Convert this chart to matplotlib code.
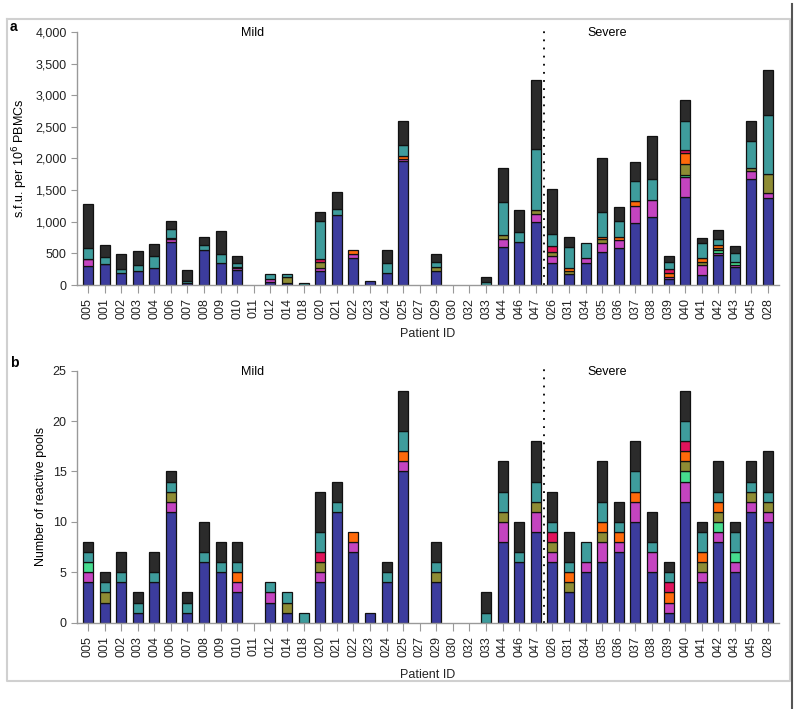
import numpy as np
import matplotlib.pyplot as plt
from matplotlib.lines import Line2D

plt.rcParams['font.family'] = ['Liberation Sans', 'DejaVu Sans']

patients = ['005', '001', '002', '003', '004', '006', '007', '008', '009', '010', '011', '012',
            '014', '018', '020', '021', '022', '023', '024', '025', '027', '029', '030', '032',
            '033', '044', '046', '047',
            '026', '031', '034', '035', '036', '037', '038', '039', '040', '041', '042', '043',
            '045', '028']

# panel a: s.f.u. per 10^6 PBMCs, one list per stacked segment (bottom -> top)
sfu_blue = [306, 327, 185, 227, 264, 686, 26, 554, 343, 237, 0, 50, 26, 0, 227, 1108, 422, 63,
            185, 1953, 0, 227, 0, 0, 0, 596, 675, 992,
            343, 169, 343, 528, 580, 976, 1071, 90, 1388, 158, 475, 280, 1673, 1372]
sfu_magenta = [100, 0, 0, 0, 0, 45, 0, 0, 0, 30, 0, 40, 0, 0, 47, 0, 69, 0, 0, 45, 0, 0, 0, 0,
               0, 127, 0, 132,
               116, 0, 79, 142, 132, 275, 275, 42, 316, 159, 37, 37, 121, 79]
sfu_mint = [11, 0, 0, 0, 0, 0, 0, 0, 0, 0, 0, 0, 0, 0, 0, 0, 0, 0, 0, 0, 0, 0, 0, 0, 0, 0, 0, 0,
            0, 0, 0, 0, 0, 0, 0, 0, 37, 0, 42, 52, 0, 0]
sfu_olive = [0, 10, 0, 0, 0, 8, 0, 0, 0, 0, 0, 0, 106, 0, 95, 0, 0, 0, 0, 0, 0, 63, 0, 0, 0, 69,
             0, 63,
             69, 58, 0, 53, 0, 0, 0, 0, 175, 52, 26, 0, 53, 306]
sfu_orange = [0, 0, 0, 0, 0, 0, 0, 0, 0, 25, 0, 0, 0, 0, 0, 0, 60, 0, 0, 34, 0, 0, 0, 0, 0, 0,
              0, 0,
              0, 37, 0, 42, 53, 79, 0, 63, 168, 64, 53, 0, 0, 0]
sfu_crimson = [0, 0, 0, 0, 0, 0, 0, 0, 0, 0, 0, 0, 0, 0, 37, 0, 0, 0, 0, 0, 0, 0, 0, 0, 0, 0, 0,
               0,
               95, 0, 0, 0, 0, 0, 0, 53, 53, 0, 0, 0, 0, 0]
sfu_teal = [174, 101, 63, 90, 200, 142, 37, 79, 148, 50, 0, 90, 42, 37, 607, 95, 0, 0, 158, 174,
            0, 79, 0, 0, 53, 527, 159, 961,
            179, 343, 238, 396, 248, 306, 332, 121, 449, 237, 90, 132, 433, 924]
sfu_black = [691, 190, 243, 227, 180, 137, 174, 132, 369, 122, 0, 0, 0, 0, 148, 264, 0, 0, 211,
             390, 0, 122, 0, 0, 79, 528, 353, 1097,
             718, 148, 0, 844, 217, 306, 670, 95, 332, 69, 148, 122, 306, 723]

# panel b: number of reactive pools
pools_blue = [4, 2, 4, 1, 4, 11, 1, 6, 5, 3, 0, 2, 1, 0, 4, 11, 7, 1, 4, 15, 0, 4, 0, 0, 0, 8, 6, 9,
              6, 3, 5, 6, 7, 10, 5, 1, 12, 4, 8, 5, 11, 10]
pools_magenta = [1, 0, 0, 0, 0, 1, 0, 0, 0, 1, 0, 1, 0, 0, 1, 0, 1, 0, 0, 1, 0, 0, 0, 0, 0, 2, 0, 2,
                 1, 0, 1, 2, 1, 2, 2, 1, 2, 1, 1, 1, 1, 1]
pools_mint = [1, 0, 0, 0, 0, 0, 0, 0, 0, 0, 0, 0, 0, 0, 0, 0, 0, 0, 0, 0, 0, 0, 0, 0, 0, 0, 0, 0,
              0, 0, 0, 0, 0, 0, 0, 0, 1, 0, 1, 1, 0, 0]
pools_olive = [0, 1, 0, 0, 0, 1, 0, 0, 0, 0, 0, 0, 1, 0, 1, 0, 0, 0, 0, 0, 0, 1, 0, 0, 0, 1, 0, 1,
               1, 1, 0, 1, 0, 0, 0, 0, 1, 1, 1, 0, 1, 1]
pools_orange = [0, 0, 0, 0, 0, 0, 0, 0, 0, 1, 0, 0, 0, 0, 0, 0, 1, 0, 0, 1, 0, 0, 0, 0, 0, 0, 0, 0,
                0, 1, 0, 1, 1, 1, 0, 1, 1, 1, 1, 0, 0, 0]
pools_crimson = [0, 0, 0, 0, 0, 0, 0, 0, 0, 0, 0, 0, 0, 0, 1, 0, 0, 0, 0, 0, 0, 0, 0, 0, 0, 0, 0, 0,
                 1, 0, 0, 0, 0, 0, 0, 1, 1, 0, 0, 0, 0, 0]
pools_teal = [1, 1, 1, 1, 1, 1, 1, 1, 1, 1, 0, 1, 1, 1, 2, 1, 0, 0, 1, 2, 0, 1, 0, 0, 1, 2, 1, 2,
              1, 1, 2, 2, 1, 2, 1, 1, 2, 2, 1, 2, 1, 1]
pools_black = [1, 1, 2, 1, 2, 1, 1, 3, 2, 2, 0, 0, 0, 0, 4, 2, 0, 0, 1, 4, 0, 2, 0, 0, 2, 3, 3, 4,
               3, 3, 0, 4, 2, 3, 3, 1, 3, 1, 3, 1, 2, 4]

n_mild = 28
colors = ['#3c3c9e', '#c444c0', '#46dc8e', '#8e8c34', '#ff6a0a', '#e0145c', '#3e9c9c', '#2b2b2b']

fig = plt.figure(figsize=(8, 7.09), dpi=100)

# figure frame
fig.add_artist(Line2D([7/800, 790/800, 790/800, 7/800, 7/800],
                      [1-19/709, 1-19/709, 1-681/709, 1-681/709, 1-19/709],
                      color='#d0d0d0', lw=1.5))
fig.add_artist(Line2D([792/800, 792/800], [0, 1-4/709], color='#555555', lw=1.5))

ax_a = fig.add_axes([0.09625, 0.598, 0.8775, 0.357])
ax_b = fig.add_axes([0.09625, 0.1217, 0.8775, 0.3555])

x = np.arange(len(patients))


def stacked(ax, layers):
    bottom = np.zeros(len(patients))
    for vals, c in zip(layers, colors):
        vals = np.array(vals, dtype=float)
        m = vals > 0
        ax.bar(x[m], vals[m], bottom=bottom[m], width=0.6, color=c,
               edgecolor='#111111', linewidth=0.9)
        bottom += vals


stacked(ax_a, [sfu_blue, sfu_magenta, sfu_mint, sfu_olive, sfu_orange, sfu_crimson, sfu_teal,
               sfu_black])
stacked(ax_b, [pools_blue, pools_magenta, pools_mint, pools_olive, pools_orange, pools_crimson,
               pools_teal, pools_black])

for ax, lp in ((ax_a, 6), (ax_b, 9)):
    ax.set_xlim(-0.66, len(patients) - 0.34)
    ax.set_xticks(x)
    ax.set_xticklabels(patients, rotation=90)
    for s in ('top', 'right'):
        ax.spines[s].set_visible(False)
    for s in ('left', 'bottom'):
        ax.spines[s].set_color('#999999')
        ax.spines[s].set_linewidth(1)
    ax.tick_params(colors='#999999', labelcolor='#222222', labelsize=9, length=4)
    ax.tick_params(axis='x', length=6, pad=3.5)
    ax.set_xlabel('Patient ID', fontsize=9, color='#222222', labelpad=lp)
    ax.axvline(n_mild - 0.5, ymin=0, ymax=1.02, color='black', ls=(0, (1, 3.5)), lw=1.3,
               clip_on=False)
    ax.text(0.25, 0.995, 'Mild', transform=ax.transAxes, ha='center', va='center', fontsize=9)
    ax.text(0.755, 0.995, 'Severe', transform=ax.transAxes, ha='center', va='center', fontsize=9)

ax_a.set_ylim(0, 4000)
ax_a.set_yticks(np.arange(0, 4001, 500))
ax_a.set_yticklabels([f'{v:,}' for v in range(0, 4001, 500)])
ax_a.set_ylabel('s.f.u. per 10$^6$ PBMCs', fontsize=9)

ax_b.set_ylim(0, 25)
ax_b.set_yticks(np.arange(0, 26, 5))
ax_b.set_ylabel('Number of reactive pools', fontsize=9)

fig.text(10/800, 1-27/709, 'a', fontsize=10, fontweight='bold', va='center')
fig.text(10/800, 1-363/709, 'b', fontsize=10, fontweight='bold', va='center')

fig.savefig('out.png', dpi=100)
